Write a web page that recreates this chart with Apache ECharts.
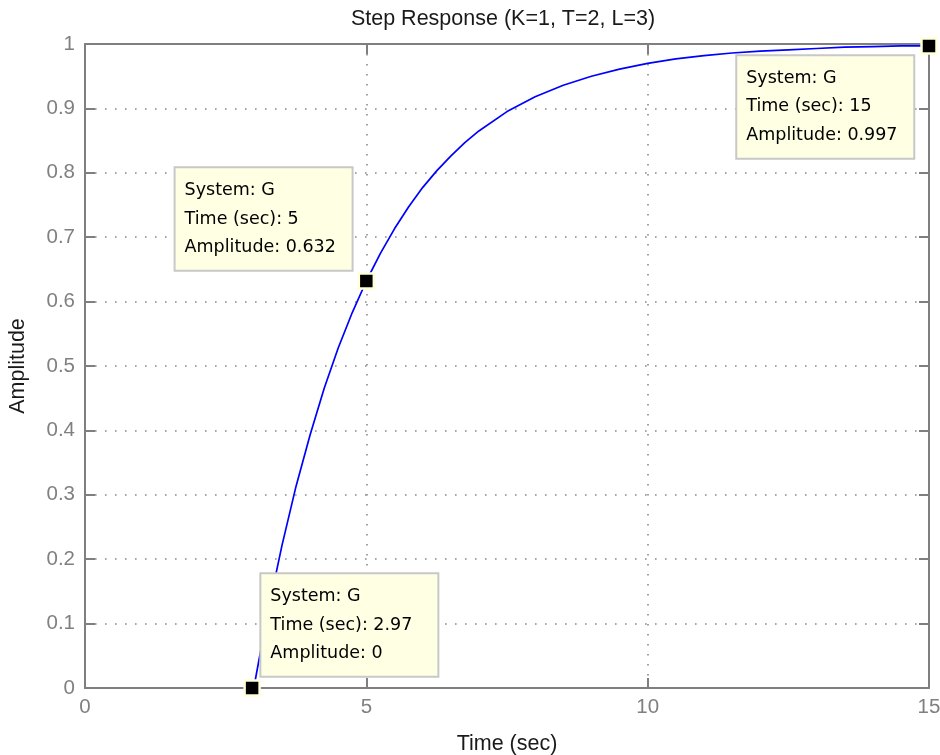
<!DOCTYPE html>
<html>
<head>
<meta charset="utf-8">
<title>Step Response</title>
<script src="https://cdn.jsdelivr.net/npm/echarts@6/dist/echarts.min.js"></script>
<style>
  html, body { margin: 0; padding: 0; background: #fff; }
  #chart { width: 940px; height: 755px; }
</style>
</head>
<body>
<div id="chart"></div>
<script>
// Step response samples of G (K=1, T=2, L=3)
const timeSec = [3, 3.25, 3.5, 3.75, 4, 4.25, 4.5, 4.75, 5, 5.25, 5.5, 5.75, 6, 6.25, 6.5, 6.75,
                 7, 7.5, 8, 8.5, 9, 9.5, 10, 10.5, 11, 11.5, 12, 12.5, 13, 13.5, 14, 14.5, 15];
const amplitude = [0, 0.118, 0.221, 0.313, 0.393, 0.465, 0.528, 0.583, 0.632, 0.675, 0.713, 0.747,
                   0.777, 0.803, 0.826, 0.847, 0.865, 0.895, 0.918, 0.936, 0.950, 0.961, 0.970,
                   0.977, 0.982, 0.986, 0.989, 0.991, 0.993, 0.995, 0.996, 0.997, 0.997];

// Data tips
const tipTime = [2.97, 5, 15];
const tipAmplitude = [0, 0.632, 0.997];
const tipSystem = ['G', 'G', 'G'];

// Axis ticks
const xTicks = [0, 5, 10, 15];
const yTicks = [0, 0.1, 0.2, 0.3, 0.4, 0.5, 0.6, 0.7, 0.8, 0.9, 1];

const FONT = "'Liberation Sans', Arial, sans-serif";
const TIP_FONT = "'DejaVu Sans', Verdana, sans-serif";
const AXIS_GREY = '#7f7f7f';

const curve = timeSec.map((t, i) => [t, amplitude[i]]);

// label box placement relative to each tip marker
const tipLabelPos = [[18, -105], [-182, -104], [-183, 19]];

const tips = tipTime.map((t, i) => ({
  value: [t, tipAmplitude[i]],
  system: tipSystem[i],
  label: { position: tipLabelPos[i] }
}));

const gridLine = { show: true, lineStyle: { color: '#8a8a8a', width: 1.6, type: [1.6, 8.4] } };

const chart = echarts.init(document.getElementById('chart'), null, { renderer: 'canvas' });
chart.setOption({
  animation: false,
  backgroundColor: '#ffffff',
  title: {
    text: 'Step Response (K=1, T=2, L=3)',
    left: 498,
    top: 3,
    textAlign: 'center',
    textStyle: { fontFamily: FONT, fontSize: 21.5, fontWeight: 'normal', color: '#1a1a1a' }
  },
  grid: { left: 85, right: 11, top: 44, bottom: 67, containLabel: false, outerBoundsMode: 'none' },
  xAxis: [{
    type: 'value', min: 0, max: 15, interval: 5,
    name: 'Time (sec)', nameLocation: 'middle', nameGap: 45,
    nameTextStyle: { fontFamily: FONT, fontSize: 21.5, color: '#1a1a1a' },
    axisLine: { show: true, onZero: false, lineStyle: { color: AXIS_GREY, width: 2 } },
    axisTick: { show: true, inside: true, length: 10, lineStyle: { color: AXIS_GREY, width: 2 } },
    axisLabel: {
      margin: 9, fontFamily: FONT, fontSize: 20.5, color: '#808080',
      formatter: v => xTicks.includes(v) ? String(v) : ''
    },
    splitLine: gridLine
  }, {
    type: 'value', min: 0, max: 15, interval: 5, position: 'top',
    axisLine: { show: true, onZero: false, lineStyle: { color: AXIS_GREY, width: 2 } },
    axisTick: { show: true, inside: true, length: 10, lineStyle: { color: AXIS_GREY, width: 2 } },
    axisLabel: { show: false },
    splitLine: { show: false }
  }],
  yAxis: [{
    type: 'value', min: 0, max: 1, interval: 0.1,
    name: 'Amplitude', nameLocation: 'middle', nameGap: 56, nameRotate: 90,
    nameTextStyle: { fontFamily: FONT, fontSize: 21.5, color: '#1a1a1a' },
    axisLine: { show: true, onZero: false, lineStyle: { color: AXIS_GREY, width: 2 } },
    axisTick: { show: true, inside: true, length: 10, lineStyle: { color: AXIS_GREY, width: 2 } },
    axisLabel: {
      margin: 10, fontFamily: FONT, fontSize: 20.5, color: '#808080',
      formatter: v => {
        const k = yTicks.findIndex(y => Math.abs(y - v) < 1e-9);
        return k >= 0 ? String(yTicks[k]) : '';
      }
    },
    splitLine: gridLine
  }, {
    type: 'value', min: 0, max: 1, interval: 0.1, position: 'right',
    axisLine: { show: true, onZero: false, lineStyle: { color: AXIS_GREY, width: 2 } },
    axisTick: { show: true, inside: true, length: 10, lineStyle: { color: AXIS_GREY, width: 2 } },
    axisLabel: { show: false },
    splitLine: { show: false }
  }],
  series: [{
    name: 'G',
    type: 'line',
    data: curve,
    showSymbol: false,
    lineStyle: { color: '#0000ff', width: 1.7 },
    z: 3
  }, {
    name: 'Data tips',
    type: 'scatter',
    data: tips,
    clip: false,
    symbol: 'rect',
    symbolSize: 15,
    itemStyle: { color: '#000000', borderColor: '#ffffd8', borderWidth: 2.5, opacity: 1 },
    z: 5,
    label: {
      show: true,
      opacity: 1,
      align: 'left',
      verticalAlign: 'top',
      fontFamily: TIP_FONT,
      fontSize: 17.5,
      lineHeight: 28.5,
      color: '#000000',
      backgroundColor: '#ffffe4',
      borderColor: '#c8c8c8',
      borderWidth: 2,
      padding: [8, 9, 8, 9],
      width: 158,
      formatter: p => 'System: ' + p.data.system +
        '\nTime (sec): ' + p.value[0] +
        '\nAmplitude: ' + p.value[1]
    },
    labelLayout: { hideOverlap: false }
  }]
});
</script>
</body>
</html>
